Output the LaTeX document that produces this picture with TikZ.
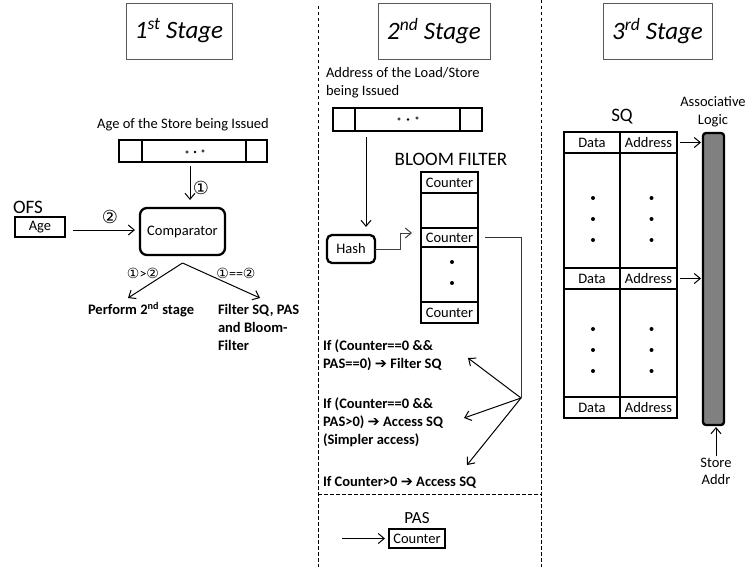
\documentclass[tikz,border=0pt]{standalone}
\usepackage{fontspec}
\setmainfont{Carlito}
\newfontfamily\symfont{DejaVu Sans}
\usetikzlibrary{arrows.meta,calc}

% circled step numbers and the heavy arrow
\newcommand\stepno[1]{{\symfont #1}}
\newcommand\thickarrow{{\symfont\bfseries ➔}}

\begin{document}
\begin{tikzpicture}[x=1pt,y=-1pt,
  every node/.style={inner sep=0pt,outer sep=0pt,font=\fontsize{14.5}{17.5}\selectfont},
  arr/.style={-{Straight Barb[length=6pt,width=10pt]},line width=1pt},
  titlebox/.style={draw=black!65,line width=0.9pt,minimum height=56pt,
    font=\fontsize{25}{30}\selectfont\itshape},
  reg/.style={draw,line width=2.3pt},
  cell/.style={draw,line width=2.5pt},
  bigtext/.style={font=\fontsize{19}{22}\selectfont},
  boldtext/.style={align=left,font=\fontsize{14.5}{17.8}\selectfont\bfseries},
  numtext/.style={font=\fontsize{18}{20}\selectfont},
  cmptext/.style={font=\fontsize{14}{16}\selectfont},
  sep/.style={dashed,line width=0.7pt,dash pattern=on 3.5pt off 2.5pt}
]
\useasboundingbox (0,0) rectangle (749,567);

% ---------- stage titles and separators ----------
\node[titlebox,minimum width=106pt] (s1) at (179,31) {1\textsuperscript{st} Stage};
\node[titlebox,minimum width=112pt] (s2) at (434,31) {2\textsuperscript{nd} Stage};
\node[titlebox,minimum width=109pt] (s3) at (657.5,31) {3\textsuperscript{rd} Stage};

\draw[sep] (318,6) -- (318,567);
\draw[sep] (541,0) -- (541,567);
\draw[sep] (318,494) -- (541,494);

% ---------- 1st stage ----------
\node (ageT) at (183,125) {Age of the Store being Issued};
\node[reg,minimum width=148pt,minimum height=22pt] (reg1) at (193,151) {};
\draw[line width=2.3pt] ([xshift=23pt]reg1.north west) -- ([xshift=23pt]reg1.south west);
\draw[line width=2.3pt] ([xshift=-21pt]reg1.north east) -- ([xshift=-21pt]reg1.south east);
\draw[line width=0.5pt] (187,152) circle (1.3pt);
\fill (195,152) circle (1.4pt);
\draw[line width=0.5pt] (203,151) circle (1.3pt);

\node[draw,rounded corners=7pt,line width=2.3pt,minimum width=85pt,minimum height=47pt]
  (cmp) at (182.5,231.5) {Comparator};

\draw[arr] ([shift={(-3,4)}]reg1.south) -- ([shift={(7.5,-8)}]cmp.north);
\node[numtext] (n1) at (201,188) {\stepno{①}};

\node[font=\fontsize{19}{22}\selectfont] (ofs) at (28,207) {OFS};
\node[reg,minimum width=50pt,minimum height=20pt] (age) at (40,227) {Age};
\coordinate (a2) at ([shift={(8,3)}]age.east);
\draw[arr,shorten >=5pt] (a2) -- (a2 -| cmp.west);
\node[numtext] (n2) at (110,217) {\stepno{②}};

\coordinate (apex) at ([shift={(0,8)}]cmp.south);
\coordinate (tipL) at (128,298);
\coordinate (tipR) at (260,298);
\draw[arr] (apex) -- (tipL);
\draw[arr] (apex) -- (tipR);
\node[cmptext] (lgt) at (143,273) {\stepno{①}>\stepno{②}};
\node[cmptext] (leq) at (236,273) {\stepno{①}==\stepno{②}};

\node[anchor=west,boldtext] (perf) at (88,310) {Perform 2\textsuperscript{nd} stage};
\node[anchor=west,boldtext] (filt) at (218,327.5) {Filter SQ, PAS\\and Bloom-\\Filter};

% ---------- 2nd stage ----------
\node[anchor=west,align=left,font=\fontsize{14.5}{18}\selectfont] (addrT) at (326,83)
  {Address of the Load/Store\\being Issued};
\node[reg,minimum width=149pt,minimum height=23pt] (reg2) at (407.5,119.5) {};
\draw[line width=2.3pt] ([xshift=22pt]reg2.north west) -- ([xshift=22pt]reg2.south west);
\draw[line width=2.3pt] ([xshift=-22pt]reg2.north east) -- ([xshift=-22pt]reg2.south east);
\draw[line width=0.5pt] (399,119) circle (1.3pt);
\fill (408,119.5) circle (1.4pt);
\draw[line width=0.5pt] (417,118) circle (1.3pt);

\node[draw,rounded corners=5pt,line width=2.3pt,minimum width=48pt,minimum height=28pt]
  (hash) at (351,249) {Hash};
\draw[arr] ([shift={(-41.5,6)}]reg2.south) -- ([shift={(15,-8)}]hash.north);

\node[bigtext] (bfT) at (451,159) {BLOOM FILTER};
\node[cell,minimum width=57pt,minimum height=21pt] (c1) at (449.5,182.5) {Counter};
\node[cell,minimum width=57pt,minimum height=35pt] (e1) at (449.5,210.5) {};
\node[cell,minimum width=57pt,minimum height=19pt] (c2) at (449.5,237.5) {Counter};
\node[cell,minimum width=57pt,minimum height=55pt] (d1) at (449.5,274.5) {};
\node[cell,minimum width=57pt,minimum height=21pt] (c3) at (449.5,312.5) {Counter};
\fill (452,262) circle (2pt);
\fill (452,283) circle (2pt);

\draw[arr,black!75] (hash.east) -- ++(25,0) |- ([shift={(-9,-4.5)}]c2.west);

\coordinate (fork) at (521,398);
\draw[line width=0.9pt,black!80] ([xshift=7pt]c2.east) -| (fork);

\node[anchor=west,boldtext] (t1) at (323,355)
  {If (Counter==0 \&\&\\PAS==0) \thickarrow{} Filter SQ};
\node[anchor=west,boldtext] (t2) at (323,422)
  {If (Counter==0 \&\&\\PAS>0) \thickarrow{} Access SQ\\(Simpler access)};
\node[anchor=west,boldtext] (t3) at (323,482)
  {If Counter>0 \thickarrow{} Access SQ};
\coordinate (tip1) at (468,358);
\coordinate (tip2) at (464,418);
\coordinate (tip3) at (467,465);
\draw[arr] (fork) -- (tip1);
\draw[arr] (fork) -- (tip2);
\draw[arr] (fork) -- (tip3);

\node[font=\fontsize{17}{20}\selectfont] (pasT) at (417,518) {PAS};
\node[cell,minimum width=56pt,minimum height=19pt] (pas) at (417,538.5) {Counter};
\coordinate (pasin) at (342,538.5);
\draw[arr,shorten >=4pt] (pasin) -- (pas.west);

% ---------- 3rd stage ----------
\node[bigtext] (sqT) at (622,117) {SQ};
\node[align=center] (alT) at (713,111.5) {Associative\\Logic};

\node[cell,minimum width=56pt,minimum height=21pt] (d1r) at (592,142.5) {Data};
\node[cell,minimum width=57pt,minimum height=21pt] (a1r) at (648.5,142.5) {Address};
\node[cell,minimum width=56pt,minimum height=115pt] (dg1) at (592,210.5) {};
\node[cell,minimum width=57pt,minimum height=115pt] (ag1) at (648.5,210.5) {};
\node[cell,minimum width=56pt,minimum height=21pt] (d2r) at (592,278.5) {Data};
\node[cell,minimum width=57pt,minimum height=21pt] (a2r) at (648.5,278.5) {Address};
\node[cell,minimum width=56pt,minimum height=108pt] (dg2) at (592,343) {};
\node[cell,minimum width=57pt,minimum height=108pt] (ag2) at (648.5,343) {};
\node[cell,minimum width=56pt,minimum height=21pt] (d3r) at (592,407.5) {Data};
\node[cell,minimum width=57pt,minimum height=21pt] (a3r) at (648.5,407.5) {Address};

\foreach \yy in {198,219,240,329,350,371}{
  \fill (593,\yy) circle (2pt);
  \fill (651.5,\yy) circle (2pt);
}

\node[draw,fill=black!50,rounded corners=3pt,line width=2.3pt,minimum width=21pt,
  minimum height=292pt] (bar) at (713.5,279) {};

\draw[arr,shorten <=3pt,shorten >=2pt] (a1r.east) -- (a1r.east -| bar.west);
\draw[arr,shorten <=3pt,shorten >=2pt] (a2r.east) -- (a2r.east -| bar.west);

\node[align=center] (sa) at (716,471.5) {Store\\Addr};
\draw[arr,shorten <=2pt,shorten >=2pt] (sa.north) -- (sa.north |- bar.south);
\end{tikzpicture}
\end{document}
